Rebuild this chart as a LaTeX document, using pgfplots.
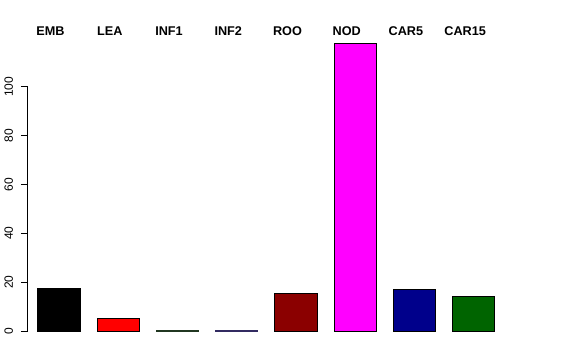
\documentclass[border=0pt]{standalone}
\usepackage{pgfplots}
\pgfplotsset{compat=1.18}
\usepackage{fontspec}
\setmainfont{Liberation Sans}
\definecolor{cEMB}{HTML}{000000}
\definecolor{cLEA}{HTML}{FF0000}
\definecolor{cINFa}{HTML}{2F4F2F}
\definecolor{cINFb}{HTML}{483D8B}
\definecolor{cROO}{HTML}{8B0000}
\definecolor{cNOD}{HTML}{FF00FF}
\definecolor{cCARa}{HTML}{00008B}
\definecolor{cCARb}{HTML}{006400}
\begin{document}
\begin{tikzpicture}
\begin{axis}[
  scale only axis,
  width=411pt, height=244.5pt,
  xmin=0.4749, xmax=9.727,
  ymin=-11.87, ymax=121.57,
  axis line style={draw=none},
  clip=false,
  xtick={1,2,3,4,5,6,7,8},
  xticklabels={EMB,LEA,INF1,INF2,ROO,NOD,CAR5,CAR15},
  xticklabel pos=upper,
  x tick style={draw=none},
  major x tick style={draw=none},
  xticklabel style={anchor=base, font=\fontsize{9.5}{11}\selectfont\bfseries, xshift=-6.4pt, yshift=-6pt},
  ytick={0,20,40,60,80,100},
  ytick pos=left,
  tick align=outside,
  major tick length=5.25pt,
  y tick style={black, line width=0.75pt},
  yticklabel style={xshift=-6pt, rotate=90, anchor=base, font=\fontsize{9}{10}\selectfont},
  /pgf/number format/assume math mode=true,
]
\draw[line width=0.75pt] (axis cs:0.4749,0) -- (axis cs:0.4749,100);
\addplot[ybar, bar width=0.714, bar shift=0pt, fill=cEMB, draw=black, line width=0.75pt] coordinates {(1,17.6)};
\addplot[ybar, bar width=0.714, bar shift=0pt, fill=cLEA, draw=black, line width=0.75pt] coordinates {(2,5.2)};
\addplot[ybar, bar width=0.714, bar shift=0pt, fill=cINFa, draw=cINFa!70!black, line width=0.75pt] coordinates {(3,0.4)};
\addplot[ybar, bar width=0.714, bar shift=0pt, fill=cINFb, draw=cINFb!70!black, line width=0.75pt] coordinates {(4,0.3)};
\addplot[ybar, bar width=0.714, bar shift=0pt, fill=cROO, draw=black, line width=0.75pt] coordinates {(5,15.4)};
\addplot[ybar, bar width=0.714, bar shift=0pt, fill=cNOD, draw=black, line width=0.75pt] coordinates {(6,117.8)};
\addplot[ybar, bar width=0.714, bar shift=0pt, fill=cCARa, draw=black, line width=0.75pt] coordinates {(7,16.8)};
\addplot[ybar, bar width=0.714, bar shift=0pt, fill=cCARb, draw=black, line width=0.75pt] coordinates {(8,14.0)};
\coordinate (tl) at (axis cs:0.00219,135.49);
\coordinate (br) at (axis cs:9.727,-11.87);
\end{axis}
\pgfresetboundingbox
\useasboundingbox (tl) rectangle (br);
\end{tikzpicture}
\end{document}
